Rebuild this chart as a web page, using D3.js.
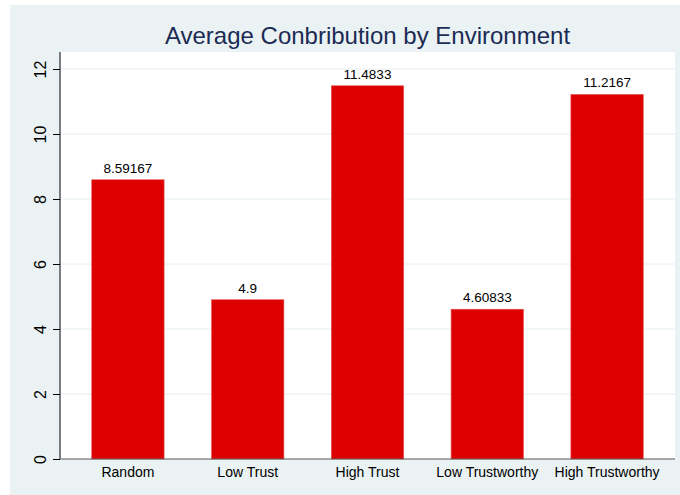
<!DOCTYPE html>
<html>
<head>
<meta charset="utf-8">
<script src="https://cdn.jsdelivr.net/npm/d3@7"></script>
<style>
  body { margin: 0; background: #fff; }
  svg { display: block; font-family: "Liberation Sans", Arial, sans-serif; }
</style>
</head>
<body>
<svg id="chart" width="680" height="495"></svg>
<script>
const categories = ["Random", "Low Trust", "High Trust", "Low Trustworthy", "High Trustworthy"];
const values = [8.59167, 4.9, 11.4833, 4.60833, 11.2167];
const valueLabels = ["8.59167", "4.9", "11.4833", "4.60833", "11.2167"];
const yTicks = [0, 2, 4, 6, 8, 10, 12];

const svg = d3.select("#chart");
const plot = { left: 60, right: 675, top: 52, bottom: 459 };

svg.append("rect")
  .attr("x", 10).attr("y", 5).attr("width", 670).attr("height", 490)
  .attr("fill", "#eaf2f3");

svg.append("rect")
  .attr("x", plot.left).attr("y", plot.top)
  .attr("width", plot.right - plot.left).attr("height", plot.bottom - plot.top)
  .attr("fill", "#fff");

const x = d3.scaleBand()
  .domain(categories)
  .range([plot.left, plot.right])
  .paddingInner(0.396)
  .paddingOuter(0.265);

const y = d3.scaleLinear().domain([0, 12]).range([plot.bottom, plot.bottom - 12 * 32.5]);

// gridlines
svg.append("g")
  .selectAll("line")
  .data(yTicks.filter(d => d > 0))
  .join("line")
  .attr("x1", plot.left).attr("x2", plot.right)
  .attr("y1", d => y(d)).attr("y2", d => y(d))
  .attr("stroke", "#e4eef0").attr("stroke-width", 1);

// bars
svg.append("g")
  .selectAll("rect")
  .data(values)
  .join("rect")
  .attr("x", (d, i) => x(categories[i]))
  .attr("y", d => y(d))
  .attr("width", x.bandwidth())
  .attr("height", d => plot.bottom - y(d))
  .attr("fill", "#dc0000")
  .attr("stroke", "#e8504f")
  .attr("stroke-width", 0.6);

// value labels
svg.append("g")
  .selectAll("text")
  .data(values)
  .join("text")
  .attr("x", (d, i) => x(categories[i]) + x.bandwidth() / 2)
  .attr("y", d => y(d) - 7)
  .attr("text-anchor", "middle")
  .attr("font-size", 13.5)
  .attr("fill", "#000")
  .text((d, i) => valueLabels[i]);

// y axis
const yAxis = svg.append("g")
  .attr("transform", `translate(${plot.left},0)`)
  .call(d3.axisLeft(y).tickValues(yTicks).tickSize(7).tickPadding(0).tickFormat(d3.format("d")));
yAxis.select(".domain").attr("d", `M0,${plot.top}V${plot.bottom}`).attr("stroke", "#000");
yAxis.selectAll(".tick line").attr("stroke", "#000");
yAxis.selectAll(".tick text")
  .attr("x", null).attr("dy", null)
  .attr("transform", "translate(-14,0) rotate(-90)")
  .attr("text-anchor", "middle")
  .attr("font-size", 16)
  .attr("font-family", "Liberation Sans, Arial, sans-serif")
  .attr("fill", "#000");

// x axis
const xAxis = svg.append("g")
  .attr("transform", `translate(0,${plot.bottom})`)
  .call(d3.axisBottom(x).tickSize(0).tickPadding(8));
xAxis.select(".domain").attr("d", `M${plot.left},0H${plot.right}`).attr("stroke", "#555");
xAxis.selectAll(".tick text")
  .attr("font-size", 14)
  .attr("font-family", "Liberation Sans, Arial, sans-serif")
  .attr("fill", "#000");

// title
svg.append("text")
  .attr("x", (plot.left + plot.right) / 2)
  .attr("y", 44)
  .attr("text-anchor", "middle")
  .attr("font-size", 24)
  .attr("fill", "#1c2b55")
  .text("Average Conbribution by Environment");
</script>
</body>
</html>
